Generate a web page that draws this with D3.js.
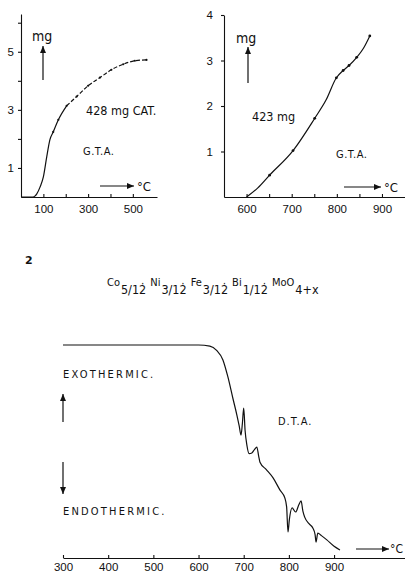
<!DOCTYPE html>
<html>
<head>
<meta charset="utf-8">
<script src="https://cdn.jsdelivr.net/npm/d3@7"></script>
<style>
    body { margin: 0; background: #fff; }
    svg { display: block; }
    text { font-family: "Liberation Sans Narrow", "DejaVu Sans Condensed", sans-serif; fill: #111; }
    .axis path, .axis line { stroke: #111; stroke-width: 1.1; }
    .axis text { font-size: 11.5px; font-family: "Liberation Sans Narrow", sans-serif; fill: #111; }
    .curve { fill: none; stroke: #111; stroke-width: 1.2; }
</style>
</head>
<body>
<div id="chart"></div>
<script>
// GTA, 428 mg catalyst (left plot)
var gtaCatTemp = [0, 54, 62, 70, 85, 100, 115, 129, 144, 167, 204, 249, 300, 353, 404, 457, 509, 561];
var gtaCatMass = [0, 0, 0.03, 0.1, 0.34, 0.69, 1.38, 1.97, 2.24, 2.66, 3.14, 3.46, 3.83, 4.11, 4.38, 4.57, 4.69, 4.72];
var gtaCatXTicks = [100, 200, 300, 400, 500];
var gtaCatXLabels = [100, 300, 500];
var gtaCatYTicks = [1, 2, 3, 4, 5, 6];
var gtaCatYLabels = [1, 3, 5];

// GTA, 423 mg (right plot)
var gtaMoTemp = [600, 625, 651, 703, 751, 776, 799, 814, 827, 844, 859, 873];
var gtaMoMass = [0, 0.2, 0.48, 1.02, 1.73, 2.13, 2.62, 2.78, 2.89, 3.07, 3.27, 3.54];
var gtaMoDots = [651, 703, 751, 799, 814, 827, 844, 873];
var gtaMoXTicks = [600, 650, 700, 750, 800, 850, 900];
var gtaMoXLabels = [600, 700, 800, 900];
var gtaMoYTicks = [1, 2, 3, 4];

// DTA (bottom plot), signal in arbitrary units
var dtaTemp = [300, 600, 625, 640, 654, 665, 676, 685, 690, 694, 697, 700, 703, 707, 712, 718, 724, 729, 733, 736, 750, 765, 780, 791, 795, 798, 801, 807, 815, 822, 827, 831, 835, 845, 853, 858, 860, 864, 872, 884, 900, 913];
var dtaSignal = [100, 100, 99.5, 97.5, 93, 85, 75, 67, 62, 57.7, 63, 70.4, 60, 53, 49, 49.3, 51, 52.1, 48, 45, 41.5, 37.6, 32, 28.2, 24, 12.2, 18, 23.5, 21.6, 25, 26.8, 22, 19.2, 16, 14.1, 11, 7.5, 11.7, 10.5, 8.5, 5.5, 3.8];
var dtaXTicks = [300, 400, 500, 600, 700, 800, 900];

// formula pieces: [element, subscript]
var formula = [["Co", "5/12\u0307"], ["Ni", "3/12\u0307"], ["Fe", "3/12\u0307"], ["Bi", "1/12\u0307"], ["MoO", "4+x"]];

var svg = d3.select('#chart').append('svg')
    .attr('width', 405)
    .attr('height', 574);

svg.append('defs').append('marker')
    .attr('id', 'arrow')
    .attr('markerUnits', 'userSpaceOnUse')
    .attr('markerWidth', 7).attr('markerHeight', 6)
    .attr('refX', 7).attr('refY', 3)
    .attr('orient', 'auto')
    .append('path').attr('d', 'M0,0L7,3L0,6Z').attr('fill', '#111');

function arrow(x1, y1, x2, y2) {
    svg.append('line')
        .attr('x1', x1).attr('y1', y1).attr('x2', x2).attr('y2', y2)
        .attr('stroke', '#111').attr('stroke-width', 1.2)
        .attr('marker-end', 'url(#arrow)');
}

function label(x, y, str, size, extra) {
    var t = svg.append('text')
        .attr('x', x).attr('y', y)
        .style('font-size', size + 'px')
        .text(str);
    if (extra) { t.style('letter-spacing', extra + 'px'); }
    return t;
}

function fmt(list) {
    return function (d) { return list.indexOf(d) >= 0 ? d : ''; };
}

/* ---------- left GTA ---------- */
var x1 = d3.scaleLinear().domain([0, 608]).range([21, 157]);
var y1 = d3.scaleLinear().domain([0, 6.3]).range([197, 14]);

svg.append('g').attr('class', 'axis')
    .attr('transform', 'translate(0,197)')
    .call(d3.axisBottom(x1).tickValues(gtaCatXTicks).tickSizeInner(-3).tickSizeOuter(0)
        .tickPadding(8).tickFormat(fmt(gtaCatXLabels)));
svg.append('g').attr('class', 'axis')
    .attr('transform', 'translate(21,0)')
    .call(d3.axisLeft(y1).tickValues(gtaCatYTicks).tickSizeInner(3).tickSizeOuter(0)
        .tickPadding(4).tickFormat(fmt(gtaCatYLabels)));

var lineCat = d3.line()
    .x(function (d) { return x1(d[0]); })
    .y(function (d) { return y1(d[1]); })
    .curve(d3.curveMonotoneX);
var catPts = d3.zip(gtaCatTemp, gtaCatMass);
svg.append('path').attr('class', 'curve').attr('d', lineCat(catPts.slice(0, 11)));
svg.append('path').attr('class', 'curve')
    .attr('stroke-dasharray', '4,2')
    .attr('stroke-width', 1)
    .attr('d', lineCat(catPts.slice(10)));
svg.selectAll('.catdot').data(catPts.slice(8)).enter().append('circle')
    .attr('cx', function (d) { return x1(d[0]); })
    .attr('cy', function (d) { return y1(d[1]); })
    .attr('r', 1.1).attr('fill', '#111');

label(32, 41, 'mg', 14);
arrow(43, 80, 43, 46);
label(86, 115, '428 mg CAT.', 12.5);
label(83, 155, 'G.T.A.', 11, 0.5);
arrow(100, 186, 134, 186);
label(137, 191, '°C', 13);

/* ---------- right GTA ---------- */
var x2 = d3.scaleLinear().domain([550, 951]).range([224, 405]);
var y2 = d3.scaleLinear().domain([0, 4]).range([197, 15]);

svg.append('g').attr('class', 'axis')
    .attr('transform', 'translate(0,197)')
    .call(d3.axisBottom(x2).tickValues(gtaMoXTicks).tickSizeInner(-3).tickSizeOuter(0)
        .tickPadding(8).tickFormat(fmt(gtaMoXLabels)));
svg.append('g').attr('class', 'axis')
    .attr('transform', 'translate(224,0)')
    .call(d3.axisLeft(y2).tickValues(gtaMoYTicks).tickSizeInner(3).tickSizeOuter(0)
        .tickPadding(8).tickFormat(d3.format('d')));

var lineMo = d3.line()
    .x(function (d) { return x2(d[0]); })
    .y(function (d) { return y2(d[1]); })
    .curve(d3.curveMonotoneX);
svg.append('path').attr('class', 'curve').attr('d', lineMo(d3.zip(gtaMoTemp, gtaMoMass)));
svg.selectAll('.modot').data(gtaMoDots).enter().append('circle')
    .attr('cx', function (d) { return x2(d); })
    .attr('cy', function (d) { return y2(gtaMoMass[gtaMoTemp.indexOf(d)]); })
    .attr('r', 1.4).attr('fill', '#111');

label(236, 43, 'mg', 14);
arrow(248, 83, 248, 47);
label(252, 121, '423 mg', 12.5);
label(336, 158, 'G.T.A.', 11, 0.5);
arrow(344, 187, 381, 187);
label(384, 192, '°C', 13);

/* ---------- figure number and formula ---------- */
label(25, 264, '2', 11).style('font-weight', 'bold').style('font-family', 'DejaVu Sans');

var ft = svg.append('text').attr('x', 107).attr('y', 286).style('font-size', '11px');
formula.forEach(function (p, i) {
    ft.append('tspan').attr('dx', i === 0 ? 0 : 4).attr('dy', i === 0 ? 0 : -8).text(p[0]);
    ft.append('tspan').attr('dx', 1).attr('dy', 8).style('font-size', '12.5px').text(p[1]);
});

/* ---------- DTA ---------- */
var x3 = d3.scaleLinear().domain([300, 1057]).range([63, 405]);
var y3 = d3.scaleLinear().domain([0, 100]).range([558, 345]);

svg.append('g').attr('class', 'axis')
    .attr('transform', 'translate(0,558)')
    .call(d3.axisBottom(x3).tickValues(dtaXTicks).tickSizeInner(-3).tickSizeOuter(0)
        .tickPadding(5));

var lineDta = d3.line()
    .x(function (d) { return x3(d[0]); })
    .y(function (d) { return y3(d[1]); })
    .curve(d3.curveMonotoneX);
svg.append('path').attr('class', 'curve').attr('d', lineDta(d3.zip(dtaTemp, dtaSignal)));

label(63, 378, 'EXOTHERMIC.', 11, 2.2);
arrow(63, 422, 63, 394);
arrow(63, 462, 63, 494);
label(63, 515, 'ENDOTHERMIC.', 11, 2.2);
label(278, 425, 'D.T.A.', 11, 1);
arrow(356, 549, 389, 549);
label(390, 553, '°C', 12);
</script>
</body>
</html>
